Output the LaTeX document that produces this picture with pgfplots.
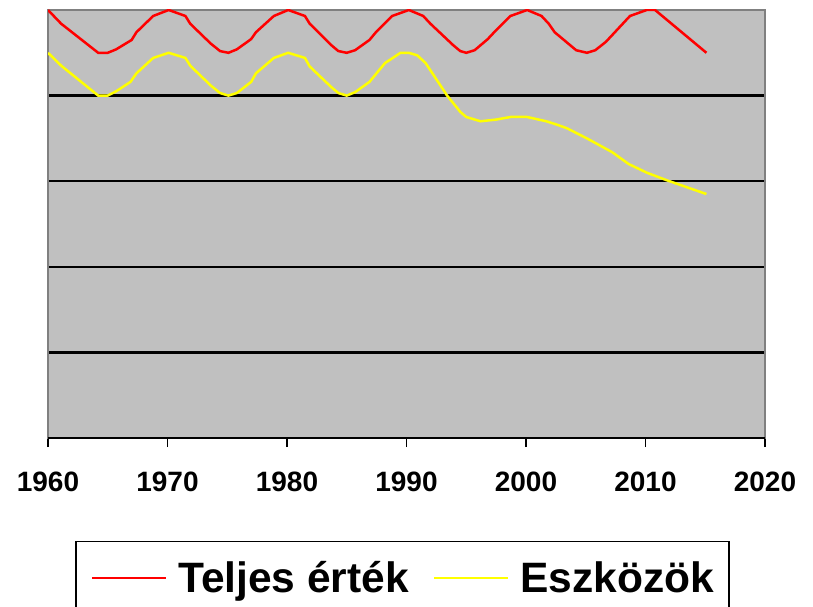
\documentclass[border=0pt]{standalone}
\usepackage{fontspec}
\setmainfont{Liberation Sans}
\usepackage{pgfplots}
\pgfplotsset{compat=1.18}
\definecolor{silver}{HTML}{C0C0C0}
\definecolor{bordergray}{HTML}{808080}
\definecolor{xred}{HTML}{FF0000}
\definecolor{xyellow}{HTML}{FFFF00}
\begin{document}
\begin{tikzpicture}
\useasboundingbox (-48bp,-169bp) rectangle (765bp,438bp);
\begin{axis}[
  name=ax,
  scale only axis, width=717bp, height=428bp,
  xmin=1960, xmax=2020, ymin=0, ymax=5,
  axis background/.style={fill=silver},
  axis line style={draw=bordergray, line width=1.5bp},
  xtick={1960,1970,...,2020},
  xtick pos=left,
  xtick align=outside,
  major tick length=9bp,
  xtick style={black, line width=1.5bp},
  ytick={1,2,3,4}, yticklabels={}, ytick style={draw=none},
  ymajorgrids, major grid style={black, line width=2.2bp},
  xticklabel style={font=\fontsize{28bp}{32bp}\selectfont\bfseries, inner sep=0pt, anchor=north, yshift=-25bp},
  /pgf/number format/1000 sep={}, /pgf/number format/assume math mode=true,
  legend columns=2,
  legend style={at={(0.03766,-0.24065)}, anchor=north west, draw=black, line width=1.5bp,
    font=\fontsize{42.5bp}{48bp}\selectfont\bfseries,
    inner xsep=15bp, inner ysep=20bp,
    nodes={inner sep=0pt},
    /tikz/every odd column/.append style={column sep=11bp},
    /tikz/every even column/.append style={column sep=24bp}},
  legend image code/.code={\draw[#1] (0bp,0bp) -- (74bp,0bp);},
]
\addplot[xred, line width=2.5bp] coordinates {
(1960,5.00) (1961.1,4.84) (1964.2,4.50) (1965.0,4.50) (1965.7,4.54) (1967.0,4.65)
(1967.4,4.74) (1968.8,4.93) (1970.1,5.00) (1971.5,4.93) (1971.9,4.84) (1973.6,4.61)
(1974.4,4.52) (1975.1,4.50) (1975.8,4.54) (1977.0,4.66) (1977.4,4.74) (1978.9,4.93)
(1980.1,5.00) (1981.5,4.93) (1981.9,4.84) (1983.7,4.59) (1984.3,4.52) (1985.0,4.50)
(1985.7,4.53) (1986.9,4.65) (1987.5,4.75) (1988.8,4.93) (1990.2,5.00) (1991.4,4.93)
(1992.0,4.84) (1993.9,4.59) (1994.5,4.52) (1995.0,4.50) (1995.7,4.53) (1996.8,4.66)
(1997.4,4.75) (1998.7,4.93) (2000.1,5.00) (2001.3,4.93) (2001.9,4.84) (2002.4,4.74)
(2004.2,4.53) (2005.1,4.50) (2005.8,4.53) (2006.7,4.63) (2008.7,4.93) (2010.1,5.00)
(2010.8,5.00) (2015.1,4.50)
};
\addlegendentry{Teljes érték}
\addplot[xyellow, line width=2.5bp] coordinates {
(1960,4.50) (1961.1,4.35) (1964.2,4.00) (1965.0,4.00) (1965.7,4.05) (1966.9,4.16)
(1967.4,4.26) (1968.8,4.44) (1970.1,4.50) (1971.5,4.44) (1971.9,4.35) (1973.6,4.12)
(1974.4,4.03) (1975.1,4.00) (1975.8,4.03) (1977.0,4.16) (1977.4,4.26) (1978.9,4.44)
(1980.1,4.50) (1981.5,4.44) (1981.9,4.34) (1983.7,4.10) (1984.3,4.03) (1985.0,4.00)
(1985.7,4.04) (1986.9,4.16) (1988.2,4.38) (1989.5,4.50) (1990.2,4.50) (1990.9,4.47)
(1991.6,4.38) (1993.4,4.00) (1994.5,3.81) (1995.0,3.75) (1996.2,3.70) (1997.5,3.72)
(1998.7,3.75) (2000.1,3.75) (2001.7,3.70) (2002.6,3.66) (2003.4,3.62) (2005.1,3.50)
(2007.2,3.34) (2008.6,3.20) (2010.1,3.10) (2011.8,3.01) (2015.1,2.85)
};
\addlegendentry{Eszközök}
\end{axis}
\draw[black, line width=2bp] (ax.south west) -- (ax.south east);
\end{tikzpicture}
\end{document}
